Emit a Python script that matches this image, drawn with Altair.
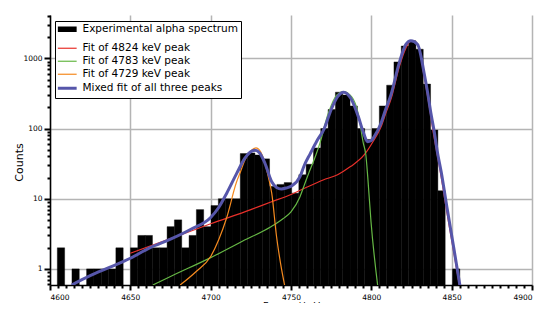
import altair as alt
import pandas as pd

# ---------------- data ----------------
BIN_START = 4600.0
BIN_WIDTH = 4.555
COUNTS = [0, 2, 0, 1, 0, 1, 1, 1, 1, 2,
          0, 2, 3, 3, 2, 2, 4, 5, 2, 3,
          7, 4, 8, 10, 10, 10, 44, 45, 42, 37,
          15, 16, 17, 12, 22, 31, 53, 100, 187, 330,
          300, 210, 100, 70, 100, 210, 415, 890, 1500, 1780,
          1350, 430, 95, 13, 0, 1]
Y_MIN = 0.59
Y_MAX = 4150

SERIES = ["Experimental alpha spectrum", "Fit of 4824 keV peak", "Fit of 4783 keV peak",
          "Fit of 4729 keV peak", "Mixed fit of all three peaks"]
COLORS = ["#000000", "#e8302a", "#66b845", "#f58a1f", "#5656aa"]
WIDTHS = [5.5, 1.2, 1.2, 1.2, 3]

RED_E = [4650, 4675, 4700, 4725, 4737.5, 4750, 4758, 4770, 4779, 4787, 4795.5, 4801, 4806, 4809,
         4812.2, 4817.4, 4821.5, 4824, 4826, 4828, 4830, 4832.5, 4834.5, 4836.5, 4838.3, 4840,
         4842.7, 4846.8, 4851, 4855]
RED_C = [1.67, 2.7, 4.4, 7.0, 9.0, 11.5, 14, 18.5, 22, 28.7, 42, 65, 105, 165,
         260, 760, 1400, 1720, 1770, 1680, 1350, 620, 340, 180, 95, 57,
         26, 6.9, 1.9, 0.55]

GREEN_E = [4664, 4675, 4700, 4720, 4737.5, 4745, 4750, 4755.6, 4758.3, 4761, 4765.5, 4768, 4773.2,
           4778.4, 4782.5, 4787.7, 4791.8, 4795, 4796.6, 4797.8, 4799.8, 4803.9]
GREEN_C = [0.59, 0.78, 1.45, 2.5, 4.0, 5.2, 6.5, 10.7, 15.7, 23, 42, 62, 165,
           300, 336, 285, 165, 62, 42, 20, 4.7, 0.59]

ORANGE_E = [4681, 4691, 4700, 4705, 4710, 4716, 4718.5, 4721.3, 4725, 4728.2, 4731, 4733.8, 4736,
            4738, 4741, 4743.5, 4746]
ORANGE_C = [0.59, 0.92, 1.5, 2.6, 5.4, 17, 24, 35.7, 48, 53, 47, 32, 20,
            12, 2.9, 1.2, 0.59]

BLUE_E = [4613.5, 4625, 4637, 4650, 4662, 4675, 4688, 4700, 4705, 4710, 4716.2, 4721.3, 4724.5,
          4727.6, 4730.5, 4733.8, 4738, 4741, 4744, 4747, 4750.4, 4755.6, 4758.3, 4762, 4766,
          4770.7, 4774.9, 4779, 4782.8, 4787.3, 4791.9, 4795.2, 4797.7, 4799.8, 4801.8, 4806,
          4809, 4812.2, 4817.4, 4821.5, 4824.6, 4828.8, 4832.9, 4835, 4837, 4839, 4841, 4843.5,
          4847.3, 4851.3, 4855.3]
BLUE_C = [0.59, 0.8, 1.05, 1.42, 2.0, 2.65, 3.7, 5.4, 7.5, 12, 23, 37.8, 46,
          49, 45, 32, 17.5, 14.5, 13.8, 14.2, 15.2, 20.6, 30, 44, 66,
          100, 184, 285, 330, 268, 148, 86, 65, 67, 77, 119,
          190, 302, 870, 1580, 1780, 1580, 610, 330, 170, 95, 48, 24,
          7, 2, 0.55]

X_MAJOR = [4600, 4650, 4700, 4750, 4800, 4850, 4900]
X_MINOR = [v for v in range(4600, 4901, 5) if v % 50 != 0]
Y_MAJOR = [1, 10, 100, 1000]
Y_MINOR = [0.6, 0.7, 0.8, 0.9,
           2, 3, 4, 5, 6, 7, 8, 9,
           20, 30, 40, 50, 60, 70, 80, 90,
           200, 300, 400, 500, 600, 700, 800, 900,
           2000, 3000, 4000]

W, H = 482, 270
GRID = "#b4b4b4"

# ---------------- tables ----------------
bars = pd.DataFrame({
    "x0": [BIN_START + i * BIN_WIDTH for i in range(len(COUNTS))],
    "count": COUNTS,
})
bars["x1"] = bars["x0"] + BIN_WIDTH
bars["base"] = Y_MIN
bars = bars[bars["count"] > 0]

frames = []
for name, es, cs in [(SERIES[1], RED_E, RED_C), (SERIES[2], GREEN_E, GREEN_C),
                     (SERIES[3], ORANGE_E, ORANGE_C), (SERIES[4], BLUE_E, BLUE_C)]:
    frames.append(pd.DataFrame({"series": name, "energy": es, "counts": cs}))
lines = pd.concat(frames, ignore_index=True)

# ---------------- scales / axes ----------------
x_scale = alt.Scale(domain=[4600, 4900], nice=False, zero=False)
y_scale = alt.Scale(type="log", domain=[Y_MIN, Y_MAX], nice=False)

style = dict(labelColor="black", titleColor="black", labelFont="DejaVu Sans",
             titleFont="DejaVu Sans", titleFontWeight="normal",
             domainColor="black", domainWidth=1.5,
             gridColor=GRID, gridWidth=1.5,
             tickColor="black", tickWidth=2)

x_axis_major = alt.Axis(
    orient="bottom", title="Energy / keV", values=X_MAJOR, format="d",
    domain=True, ticks=True, grid=True, tickSize=5,
    labelOverlap=False, labelPadding=3, labelFontSize=7.5,
    titleFontSize=9, titleBaseline="alphabetic", titleY=23.5, **style,
)
x_axis_minor = alt.Axis(
    orient="bottom", title=None, values=X_MINOR, domain=False, ticks=True,
    grid=False, labels=False, tickSize=3, **style,
)
y_axis_major = alt.Axis(
    orient="left", title="Counts", values=Y_MAJOR, format="d",
    domain=True, ticks=True, grid=True, tickSize=6,
    labelOverlap=False, labelPadding=2, labelFontSize=7.5,
    titleFontSize=11, titleX=-26, titleY=147, **style,
)
y_axis_minor = alt.Axis(
    orient="left", title=None, values=Y_MINOR, domain=False, ticks=True,
    grid=False, labels=False, tickSize=3, **style,
)

# ---------------- layers ----------------
bar_layer = alt.Chart(bars).mark_rect(color="black", stroke="black", strokeWidth=0.4).encode(
    x=alt.X("x0:Q", scale=x_scale, axis=x_axis_major),
    x2="x1:Q",
    y=alt.Y("count:Q", scale=y_scale, axis=y_axis_major),
    y2="base:Q",
)

legend = alt.Legend(
    title=None, orient="none", legendX=5, legendY=6,
    symbolType="M-18.8,0H18.8", symbolSize=1, symbolOffset=4,
    labelFont="DejaVu Sans", labelFontSize=10.5, labelColor="black", labelOffset=10,
    labelLimit=400, rowPadding=2, padding=3,
    strokeColor="black", fillColor="white",
)

line_layer = alt.Chart(lines).mark_line(interpolate="monotone", clip=True).encode(
    x=alt.X("energy:Q", scale=x_scale, axis=x_axis_minor),
    y=alt.Y("counts:Q", scale=y_scale, axis=y_axis_minor),
    color=alt.Color("series:N", scale=alt.Scale(domain=SERIES, range=COLORS), legend=legend),
    strokeWidth=alt.StrokeWidth("series:N",
                                scale=alt.Scale(type="ordinal", domain=SERIES, range=WIDTHS),
                                legend=legend),
)

chart = alt.layer(bar_layer, line_layer).resolve_axis(
    x="independent", y="independent"
).properties(
    width=W, height=H,
    autosize=alt.AutoSizeParams(type="none"),
    padding={"left": 42, "top": 7, "right": 2, "bottom": 18},
).configure_view(strokeWidth=0)

chart.save("out.html", embed_options={"renderer": "svg", "actions": False})
